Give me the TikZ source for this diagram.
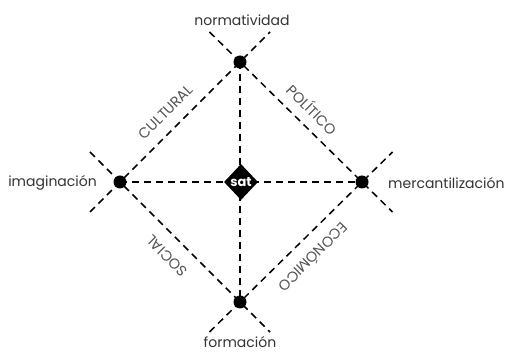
\documentclass[tikz,border=0pt]{standalone}
\usepackage{fontspec}
\setmainfont{Poppins}
\usetikzlibrary{calc,shapes.geometric}
\definecolor{txt}{HTML}{333333}
\tikzset{
  dot/.style={circle,fill=black,inner sep=0pt,minimum size=13pt},
  dline/.style={draw=black,line width=1.5pt,dash pattern=on 7pt off 5pt},
  lbl/.style={text=txt,font=\fontsize{14}{16}\selectfont,inner sep=0pt},
  side/.style={text=txt!85,font=\fontsize{14.5}{16}\selectfont,inner sep=0pt},
  satbox/.style={diamond,fill=black,inner sep=0pt,minimum width=34pt,minimum height=36pt,text=white,font=\bfseries\fontsize{13}{14}\selectfont}
}
\begin{document}
\begin{tikzpicture}[x=1pt,y=-1pt]
\useasboundingbox (0,0) rectangle (509,352);
\coordinate (T) at (240,62);
\coordinate (L) at (120,182);
\coordinate (R) at (362,182);
\coordinate (B) at (240,302);
\coordinate (C) at (241,182);
% extensions
\coordinate (TLa) at ($(L)!-0.25!(T)$);
\coordinate (TLb) at ($(T)!-0.25!(L)$);
\coordinate (TRa) at ($(T)!-0.25!(R)$);
\coordinate (TRb) at ($(R)!-0.25!(T)$);
\coordinate (BLa) at ($(L)!-0.25!(B)$);
\coordinate (BLb) at ($(B)!-0.25!(L)$);
\coordinate (BRa) at ($(B)!-0.25!(R)$);
\coordinate (BRb) at ($(R)!-0.25!(B)$);
\draw[dline] (TLa) -- (TLb);
\draw[dline] (TRa) -- (TRb);
\draw[dline] (BLa) -- (BLb);
\draw[dline] (BRa) -- (BRb);
\draw[dline] (T) -- (B);
\draw[dline] (L) -- (R);
\node[dot] (t) at (T) {};
\node[dot] (l) at (L) {};
\node[dot] (r) at (R) {};
\node[dot] (b) at (B) {};
\node[satbox] (sat) at (C) {sat};
\node[lbl] (norm) at (242,20) {normatividad};
\node[lbl,anchor=east] (imag) at (97,183) {imaginación};
\node[lbl,anchor=west] (merc) at (388,183) {mercantilización};
\node[lbl] (form) at (240,342) {formación};
\node[side,rotate=45] (cult) at (166,112) {CULTURAL};
\node[side,rotate=-45] (poli) at (313,109) {POLÍTICO};
\node[side,rotate=135] (soc) at (167,256) {SOCIAL};
\node[side,rotate=225] (eco) at (314,258) {ECONÓMICO};
\end{tikzpicture}
\end{document}
